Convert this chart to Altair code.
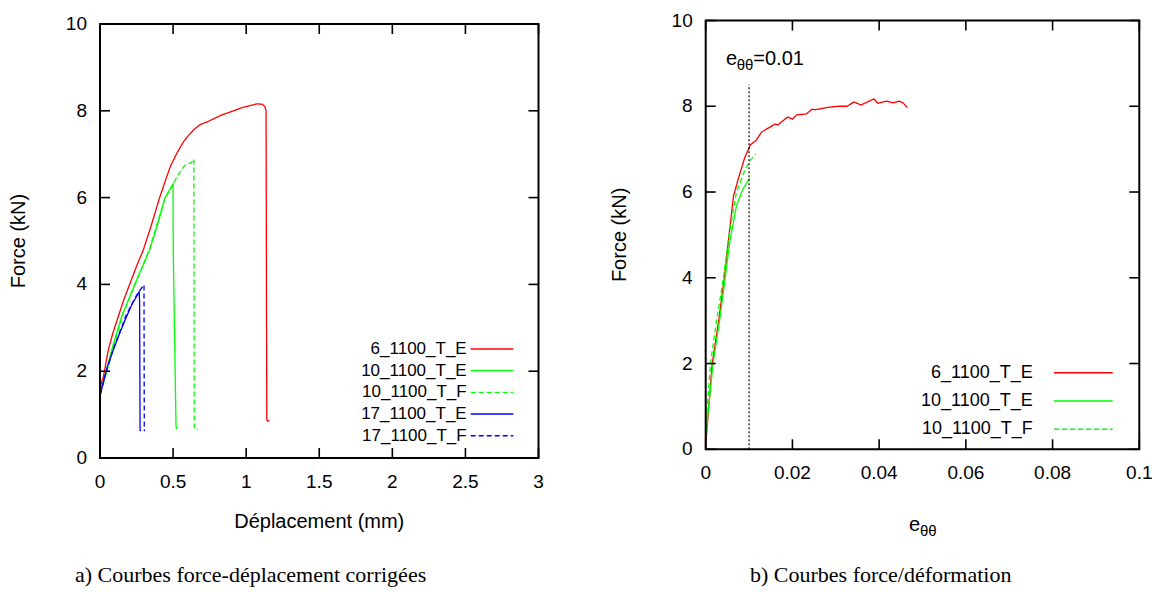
import altair as alt
import pandas as pd

# ---------------- data: panel a (force vs displacement) ----------------
a_series = ["6_1100_T_E", "10_1100_T_E", "10_1100_T_F", "17_1100_T_E", "17_1100_T_F"]
a_colors = ["#ff0000", "#00ff00", "#00ff00", "#0000ff", "#0000ff"]
a_dashes = [[1, 0], [1, 0], [5, 3], [1, 0], [5, 3]]

a_red_x = [0.0, 0.023, 0.057, 0.09, 0.125, 0.16, 0.205, 0.25, 0.296, 0.35, 0.408, 0.45, 0.484,
           0.53, 0.574, 0.61, 0.647, 0.684, 0.73, 0.78, 0.83, 0.88, 0.93, 0.977, 1.03, 1.075,
           1.11, 1.128, 1.136, 1.141, 1.145, 1.16]
a_red_y = [1.62, 1.87, 2.49, 2.9, 3.26, 3.62, 4.02, 4.42, 4.79, 5.35, 6.0, 6.42, 6.74,
           7.05, 7.3, 7.45, 7.58, 7.68, 7.74, 7.82, 7.9, 7.96, 8.02, 8.08, 8.12, 8.16,
           8.15, 8.1, 8.0, 0.9, 0.85, 0.86]

a_g1_x = [0.0, 0.023, 0.08, 0.148, 0.24, 0.30, 0.342, 0.40, 0.445, 0.48, 0.50, 0.501, 0.52, 0.523, 0.529]
a_g1_y = [1.5, 1.72, 2.49, 3.26, 4.02, 4.48, 4.82, 5.45, 6.0, 6.2, 6.32, 4.8, 0.75, 0.68, 0.7]

a_g2_x = [0.0, 0.03, 0.09, 0.16, 0.25, 0.34, 0.44, 0.50, 0.53, 0.56, 0.58, 0.60, 0.62, 0.636,
          0.642, 0.645, 0.652, 0.672]
a_g2_y = [1.5, 1.8, 2.55, 3.35, 4.08, 4.82, 5.95, 6.3, 6.5, 6.65, 6.74, 6.78, 6.8, 6.84,
          6.89, 0.72, 0.66, 0.66]

a_b1_x = [0.0, 0.021, 0.05, 0.091, 0.14, 0.182, 0.22, 0.25, 0.268, 0.271, 0.274, 0.28]
a_b1_y = [1.42, 1.72, 2.1, 2.49, 2.92, 3.26, 3.55, 3.72, 3.83, 3.6, 0.64, 0.62]

a_b2_x = [0.0, 0.03, 0.09, 0.18, 0.25, 0.285, 0.301, 0.303, 0.306]
a_b2_y = [1.45, 1.85, 2.5, 3.3, 3.75, 3.92, 3.99, 0.64, 0.62]

a_xticks = [0, 0.5, 1, 1.5, 2, 2.5, 3]
a_xlabels = ["0", "0.5", "1", "1.5", "2", "2.5", "3"]
a_yticks = [0, 2, 4, 6, 8, 10]
a_ylabels = ["0", "2", "4", "6", "8", "10"]

# ---------------- data: panel b (force vs strain) ----------------
b_series = ["6_1100_T_E", "10_1100_T_E", "10_1100_T_F"]
b_colors = ["#ff0000", "#00ff00", "#00ff00"]
b_dashes = [[1, 0], [1, 0], [5, 3]]

b_red_x = [0.0, 0.0015, 0.003, 0.0043, 0.0054, 0.0064, 0.0075, 0.009, 0.0103, 0.0116, 0.0129,
           0.0146, 0.0159, 0.0167, 0.0178, 0.0189, 0.020, 0.021, 0.0232, 0.0245, 0.0253, 0.0279,
           0.0305, 0.0326, 0.0342, 0.0358, 0.0373, 0.0388, 0.0397, 0.0416, 0.0433, 0.0446,
           0.0455, 0.0465]
b_red_y = [0.1, 2.0, 3.0, 4.0, 5.0, 5.9, 6.3, 6.8, 7.1, 7.2, 7.4,
           7.5, 7.58, 7.57, 7.66, 7.75, 7.7, 7.8, 7.82, 7.93, 7.92, 7.97,
           8.0, 8.0, 8.1, 8.03, 8.1, 8.17, 8.07, 8.12, 8.08, 8.12,
           8.08, 7.97]

b_g1_x = [0.0, 0.0017, 0.0032, 0.0045, 0.0056, 0.0071, 0.0085, 0.0101]
b_g1_y = [0.3, 2.0, 3.0, 4.0, 4.87, 5.68, 6.05, 6.32]

b_g2_x = [0.0, 0.0011, 0.0025, 0.0041, 0.0054, 0.0071, 0.009, 0.0103, 0.0116]
b_g2_y = [0.5, 2.0, 3.0, 4.0, 5.0, 6.0, 6.5, 6.75, 6.88]

b_xticks = [0, 0.02, 0.04, 0.06, 0.08, 0.1]
b_xlabels = ["0", "0.02", "0.04", "0.06", "0.08", "0.1"]
b_yticks = [0, 2, 4, 6, 8, 10]
b_ylabels = ["0", "2", "4", "6", "8", "10"]
b_marker_x = 0.01
b_marker_top = 8.5

title_x_a = "Déplacement (mm)"
title_y = "Force (kN)"
caption_a = "a) Courbes force-déplacement corrigées"
caption_b = "b) Courbes force/déformation"

# ---------------- layout constants ----------------
W, H = 1149, 584
SANS = "Liberation Sans"
SERIF = "Liberation Serif"
A_X = [92, 530.5]
A_Y = [450, 16]
B_X = [697.7, 1131.3]
B_Y = [441.3, 12.5]
TICK = 10


def long_df(names, xs, ys):
    rows = []
    for n, xv, yv in zip(names, xs, ys):
        for i, (a, b) in enumerate(zip(xv, yv)):
            rows.append({"series": n, "x": a, "y": b, "i": i})
    return pd.DataFrame(rows)


def panel(df, names, colors, dashes, xdom, ydom, xr, yr, xticks, xlabels, yticks, ylabels, lw):
    xs = alt.Scale(domain=xdom, range=xr, nice=False, zero=False)
    ys = alt.Scale(domain=ydom, range=yr, nice=False, zero=False)
    lines = alt.Chart(df).mark_line(strokeWidth=lw).encode(
        x=alt.X("x:Q", scale=xs, axis=None),
        y=alt.Y("y:Q", scale=ys, axis=None),
        color=alt.Color("series:N", scale=alt.Scale(domain=names, range=colors), legend=None),
        strokeDash=alt.StrokeDash("series:N", scale=alt.Scale(domain=names, range=dashes), legend=None),
        order=alt.Order("i:Q"),
    )
    one = pd.DataFrame({"z": [0]})
    frame = alt.Chart(one).mark_rect(filled=False, color="black", strokeWidth=2).encode(
        x=alt.XDatum(xdom[0], type="quantitative", scale=xs, axis=None),
        x2=alt.X2Datum(xdom[1]),
        y=alt.YDatum(ydom[0], type="quantitative", scale=ys, axis=None),
        y2=alt.Y2Datum(ydom[1]),
    )
    ydf = pd.DataFrame({"v": yticks, "lab": ylabels})
    xdf = pd.DataFrame({"v": xticks, "lab": xlabels})
    tl = alt.Chart(ydf).mark_rule(color="black", strokeWidth=1.6, x2Offset=TICK).encode(
        y=alt.Y("v:Q", scale=ys, axis=None),
        x=alt.XDatum(xdom[0], type="quantitative", scale=xs, axis=None), x2=alt.X2Datum(xdom[0]))
    tr = alt.Chart(ydf).mark_rule(color="black", strokeWidth=1.6, x2Offset=-TICK).encode(
        y=alt.Y("v:Q", scale=ys, axis=None),
        x=alt.XDatum(xdom[1], type="quantitative", scale=xs, axis=None), x2=alt.X2Datum(xdom[1]))
    tb = alt.Chart(xdf).mark_rule(color="black", strokeWidth=1.6, y2Offset=-TICK).encode(
        x=alt.X("v:Q", scale=xs, axis=None),
        y=alt.YDatum(ydom[0], type="quantitative", scale=ys, axis=None), y2=alt.Y2Datum(ydom[0]))
    tt = alt.Chart(xdf).mark_rule(color="black", strokeWidth=1.6, y2Offset=TICK).encode(
        x=alt.X("v:Q", scale=xs, axis=None),
        y=alt.YDatum(ydom[1], type="quantitative", scale=ys, axis=None), y2=alt.Y2Datum(ydom[1]))
    xl = alt.Chart(xdf).mark_text(align="center", baseline="middle", font=SANS, fontSize=19,
                                  color="black", yOffset=23.7).encode(
        x=alt.X("v:Q", scale=xs, axis=None),
        y=alt.YDatum(ydom[0], type="quantitative", scale=ys, axis=None),
        text="lab:N")
    yl = alt.Chart(ydf).mark_text(align="right", baseline="middle", font=SANS, fontSize=19,
                                  color="black", xOffset=-13).encode(
        y=alt.Y("v:Q", scale=ys, axis=None),
        x=alt.XDatum(xdom[0], type="quantitative", scale=xs, axis=None),
        text="lab:N")
    return [lines, frame, tl, tr, tb, tt, xl, yl], xs, ys


def txt(s, x, y, size, font=SANS, baseline="alphabetic", align="left", angle=0):
    return alt.Chart(pd.DataFrame({"t": [s]})).mark_text(
        align=align, baseline=baseline, font=font, fontSize=size, color="black", angle=angle).encode(
        text="t:N", x=alt.value(x), y=alt.value(y))


# ---------------- panel a ----------------
dfa = long_df(a_series, [a_red_x, a_g1_x, a_g2_x, a_b1_x, a_b2_x], [a_red_y, a_g1_y, a_g2_y, a_b1_y, a_b2_y])
layers_a, xsa, ysa = panel(dfa, a_series, a_colors, a_dashes, [0, 3], [0, 10], A_X, A_Y,
                           a_xticks, a_xlabels, a_yticks, a_ylabels, 1.3)

leg_a = []
for k, (n, c, d) in enumerate(zip(a_series, a_colors, a_dashes)):
    ly = 341 + k * 21.67
    ldf = pd.DataFrame({"label": [n]})
    leg_a.append(alt.Chart(ldf).mark_text(align="right", baseline="middle", font=SANS, fontSize=17,
                                          color="black").encode(
        text="label:N", x=alt.value(458.7), y=alt.value(ly)))
    leg_a.append(alt.Chart(ldf).mark_rule(color=c, strokeDash=d, strokeWidth=1.4).encode(
        x=alt.value(462.7), x2=alt.value(505.3), y=alt.value(ly)))

titles_a = [
    txt(title_x_a, (A_X[0] + A_X[1]) / 2, 513.6, 20, baseline="middle", align="center"),
    txt(title_y, 10.5, (A_Y[0] + A_Y[1]) / 2, 20, baseline="middle", align="center", angle=270),
]

panel_a = alt.layer(*layers_a, *leg_a, *titles_a)

# ---------------- panel b ----------------
dfb = long_df(b_series, [b_red_x, b_g1_x, b_g2_x], [b_red_y, b_g1_y, b_g2_y])
layers_b, xsb, ysb = panel(dfb, b_series, b_colors, b_dashes, [0, 0.1], [0, 10], B_X, B_Y,
                           b_xticks, b_xlabels, b_yticks, b_ylabels, 1.3)

marker = alt.Chart(pd.DataFrame({"z": [0]})).mark_rule(color="black", strokeWidth=1.2,
                                                         strokeDash=[2, 2]).encode(
    x=alt.XDatum(b_marker_x, type="quantitative", scale=xsb, axis=None),
    y=alt.YDatum(0, type="quantitative", scale=ysb, axis=None),
    y2=alt.Y2Datum(b_marker_top),
)

leg_b = []
for k, (n, c, d) in enumerate(zip(b_series, b_colors, b_dashes)):
    ly = 364.7 + k * 28.3
    ldf = pd.DataFrame({"label": [n]})
    leg_b.append(alt.Chart(ldf).mark_text(align="right", baseline="middle", font=SANS, fontSize=18,
                                          color="black").encode(
        text="label:N", x=alt.value(1024.7), y=alt.value(ly)))
    leg_b.append(alt.Chart(ldf).mark_rule(color=c, strokeDash=d, strokeWidth=1.4).encode(
        x=alt.value(1046), x2=alt.value(1104.7), y=alt.value(ly)))

annot = [
    txt("e", 718, 57, 20), txt("θθ", 728.7, 62, 15), txt("=0.01", 745.3, 57, 20),
    txt("e", 901, 522.6, 20), txt("θθ", 912, 527.6, 15),
    txt(title_y, 612.1, (B_Y[0] + B_Y[1]) / 2, 20, baseline="middle", align="center", angle=270),
]

panel_b = alt.layer(*layers_b, marker, *leg_b, *annot)

captions = alt.layer(
    txt(caption_a, 67, 567, 22, font=SERIF, baseline="middle"),
    txt(caption_b, 742, 567, 22, font=SERIF, baseline="middle"),
)

chart = alt.layer(panel_a, panel_b, captions).resolve_scale(
    x="independent", y="independent", color="independent", strokeDash="independent"
).properties(
    width=W, height=H, padding=0, autosize=alt.AutoSizeParams(type="none"),
    background="white",
).configure_view(stroke=None)

chart.save("out.html", embed_options={"renderer": "svg", "actions": False})
